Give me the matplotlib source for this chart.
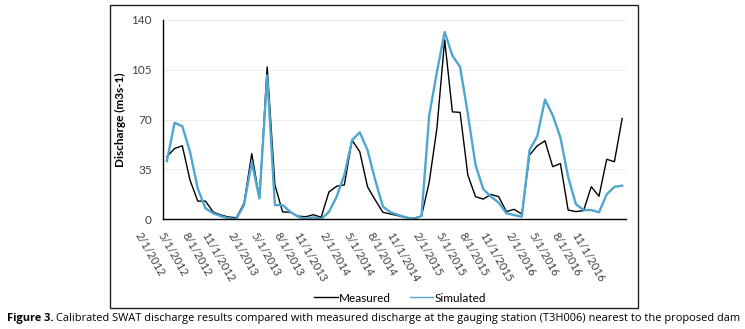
import matplotlib
matplotlib.use("Agg")
import matplotlib.pyplot as plt
from matplotlib.patches import Rectangle
from matplotlib.lines import Line2D

# monthly discharge, Feb 2012 .. Jan 2017
measured = [43.8, 49.6, 51.5, 27.4, 12.6, 12.6, 4.9, 2.8, 1.4, 0.9,
            11.0, 46.0, 14.5, 107.0, 24.0, 5.0, 4.7, 2.0, 1.6, 3.0,
            1.2, 19.0, 23.0, 24.0, 55.5, 47.3, 22.7, 13.4, 4.7, 3.5,
            2.3, 0.9, 0.5, 2.1, 26.0, 64.0, 126.0, 75.4, 75.0, 31.0,
            15.7, 14.0, 17.3, 15.7, 5.2, 6.8, 3.5, 45.0, 51.5, 55.0,
            36.8, 39.0, 6.3, 5.2, 5.9, 22.7, 16.0, 42.0, 40.3, 70.7]
simulated = [40.7, 67.7, 65.3, 47.3, 21.5, 7.5, 4.0, 2.0, 0.5, 0.0,
             9.8, 40.0, 14.5, 101.0, 9.8, 9.8, 5.0, 1.6, 0.0, 1.2,
             0.0, 5.0, 15.7, 31.0, 55.5, 61.0, 48.5, 27.4, 8.7, 4.7,
             2.8, 1.2, 0.0, 2.1, 73.0, 103.5, 131.6, 115.0, 107.0, 74.0,
             38.0, 21.0, 15.7, 11.5, 4.0, 2.8, 1.6, 48.5, 58.3, 84.0,
             73.0, 57.4, 29.7, 10.5, 6.3, 6.3, 4.7, 17.3, 22.7, 23.4]
tick_labels = ["2/1/2012", "5/1/2012", "8/1/2012", "11/1/2012",
               "2/1/2013", "5/1/2013", "8/1/2013", "11/1/2013",
               "2/1/2014", "5/1/2014", "8/1/2014", "11/1/2014",
               "2/1/2015", "5/1/2015", "8/1/2015", "11/1/2015",
               "2/1/2016", "5/1/2016", "8/1/2016", "11/1/2016"]
y_ticks = [0, 35, 70, 105, 140]

plt.rcParams['font.family'] = ['Lato', 'DejaVu Sans']
BLUE = '#4fa6cf'

W, H = 745, 329
fig = plt.figure(figsize=(W / 100, H / 100), dpi=100)
ax = fig.add_axes([163 / W, 1 - 219 / H, 463 / W, 199 / H])

x = list(range(len(measured)))
ax.plot(x, measured, color='black', lw=1.0)
ax.plot(x, simulated, color=BLUE, lw=1.7)

ax.set_xlim(-0.5, len(measured) - 0.5)
ax.set_ylim(0, 140)
ax.set_yticks(y_ticks)
ax.set_xticks(range(0, len(measured), 3))
ax.set_xticklabels(tick_labels, rotation=-60, ha='right', va='top', fontsize=8)
ax.tick_params(axis='both', length=0, colors='#404040')
ax.tick_params(axis='y', pad=8, labelsize=8.5)
ax.tick_params(axis='x', pad=8)
ax.grid(axis='y', color='#ececec', lw=0.7)
ax.set_axisbelow(True)
for s in ['top', 'right']:
    ax.spines[s].set_visible(False)
for s in ['left', 'bottom']:
    ax.spines[s].set_color('black')
    ax.spines[s].set_linewidth(1.0)
ax.set_ylabel('Discharge (m3s-1)', fontsize=8.5, fontweight='bold', labelpad=4)

# outer box round the chart
fig.patches.append(Rectangle((110 / W, 1 - 308 / H), 528 / W, 303.5 / H,
                             transform=fig.transFigure, fill=False,
                             edgecolor='#222222', lw=1.0))

# legend shows thin lines for both series
handles = [Line2D([], [], color='black', lw=1.0),
           Line2D([], [], color=BLUE, lw=1.0)]
fig.legend(handles, ['Measured', 'Simulated'], loc='center',
           bbox_to_anchor=(400 / W, 1 - 298 / H), ncol=2,
           frameon=False, fontsize=8.5, handlelength=2.0, columnspacing=1.6,
           handletextpad=0.1, borderaxespad=0)

# caption, bold lead-in then regular text
r = fig.canvas.get_renderer()
cap_font = ['Open Sans', 'DejaVu Sans']
t1 = fig.text(7 / W, 1 - 318 / H, 'Figure 3.', fontsize=7.95, fontweight='bold',
              family=cap_font, va='center')
bb = t1.get_window_extent(r)
fig.text(bb.x1 / W + 3 / W, 1 - 318 / H,
         'Calibrated SWAT discharge results compared with measured discharge at the '
         'gauging station (T3H006) nearest to the proposed dam',
         fontsize=7.95, family=cap_font, va='center')

fig.savefig('out.png', dpi=100)
